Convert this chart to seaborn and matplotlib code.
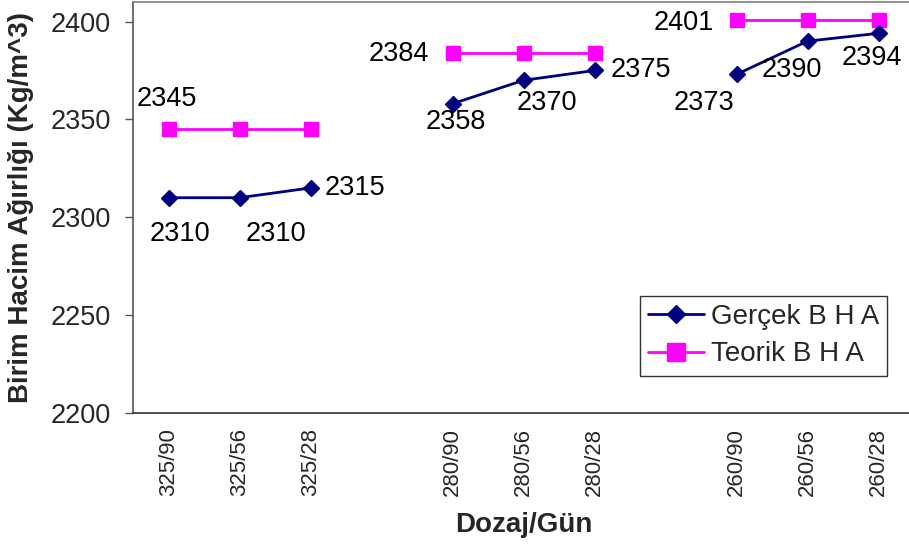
import numpy as np
import pandas as pd
import matplotlib
matplotlib.use("Agg")
import matplotlib.pyplot as plt
import seaborn as sns

# =============================================================================
# DATOS
# =============================================================================
kategoriler = ['325/90', '325/56', '325/28', '',
               '280/90', '280/56', '280/28', '',
               '260/90', '260/56', '260/28']
gruplar = [325, 325, 325, 0, 280, 280, 280, 0, 260, 260, 260]
gercek = [2310, 2310, 2315, np.nan, 2358, 2370, 2375, np.nan, 2373, 2390, 2394]
teorik = [2345, 2345, 2345, np.nan, 2384, 2384, 2384, np.nan, 2401, 2401, 2401]

# etiketlerin konumu (nokta cinsinden kaydirma), None = etiket yok
gercek_ofset = [(8, -26), (26, -26), (32, 0), None,
                (2.5, -13), (17, -16), (33.5, 0), None,
                (-23.5, -20.5), (-11, -21), (-4.5, -18)]
teorik_ofset = [(-1, 21.5), None, None, None,
                (-39, -0.5), None, None, None,
                (-38, -2.5), None, None]

# =============================================================================
# TABLO
# =============================================================================
df = pd.DataFrame({
    'pos': np.arange(len(kategoriler)),
    'grup': gruplar,
    'Gerçek B H A': gercek,
    'Teorik B H A': teorik,
})
df_uzun = df.melt(id_vars=['pos', 'grup'], var_name='seri', value_name='deger').dropna()

# =============================================================================
# GRAFIK
# =============================================================================
sns.set_style('white')
plt.rcParams['font.family'] = ['Liberation Sans', 'DejaVu Sans']

fig = plt.figure(figsize=(9.09, 5.44), dpi=100)
ax = fig.add_axes([133 / 909, 131 / 544, 781 / 909, 411 / 544])

stiller = {
    'Gerçek B H A': dict(color='#000080', marker='D', markersize=8),
    'Teorik B H A': dict(color='#FF00FF', marker='s', markersize=10.5),
}
for seri in ['Teorik B H A', 'Gerçek B H A']:
    st = stiller[seri]
    sns.lineplot(data=df_uzun[df_uzun['seri'] == seri], x='pos', y='deger',
                 units='grup', estimator=None, ax=ax, label=seri,
                 color=st['color'], marker=st['marker'], markersize=st['markersize'],
                 markeredgecolor=st['color'], markeredgewidth=1, linewidth=2)

# veri etiketleri
for degerler, ofsetler in [(gercek, gercek_ofset), (teorik, teorik_ofset)]:
    for i, (v, o) in enumerate(zip(degerler, ofsetler)):
        if o is None or np.isnan(v):
            continue
        ax.annotate(f'{v:.0f}', (i, v), xytext=o, textcoords='offset points',
                    ha='center', va='center', fontsize=19.5, color='black')

ax.set_xlim(-0.5, len(kategoriler) - 0.5)
ax.set_ylim(2200, 2410)
ax.set_yticks([2200, 2250, 2300, 2350, 2400])

ax.set_xticks(np.arange(len(kategoriler)))
ax.set_xticklabels(kategoriler, rotation=90, fontsize=16)
ax.set_xticks(np.arange(-0.5, len(kategoriler)), minor=True)
ax.tick_params(axis='x', which='major', length=0, pad=11)
ax.tick_params(axis='x', which='minor', length=4.5, width=1, color='#333333', direction='out')
ax.tick_params(axis='y', length=6, width=1, color='#555555', direction='out',
               labelsize=19.5, pad=10, left=True)

ax.set_xlabel('Dozaj/Gün', fontsize=20, fontweight='bold', labelpad=11)
ax.set_ylabel('Birim Hacim Ağırlığı (Kg/m^3)', fontsize=20, fontweight='bold', labelpad=12)

ax.spines['right'].set_visible(False)
ax.spines['top'].set_color('#808080')
ax.spines['left'].set_color('#555555')
ax.spines['bottom'].set_color('#333333')
for s in ['top', 'left', 'bottom']:
    ax.spines[s].set_linewidth(1.2)

# lejant (tekrarlanan etiketleri ayikla)
h, l = ax.get_legend_handles_labels()
tekil = dict(zip(l, h))
sira = ['Gerçek B H A', 'Teorik B H A']
leg = ax.legend([tekil[k] for k in sira], sira, loc='upper left',
                bbox_to_anchor=(0.649, 0.285), borderaxespad=0, fontsize=20,
                frameon=True, fancybox=False, shadow=False, handlelength=2.0,
                handletextpad=0.25, borderpad=0.3, labelspacing=0.4,
                markerscale=1.2)
leg.get_frame().set_edgecolor('black')
leg.get_frame().set_linewidth(1)

fig.savefig('out.png', dpi=100)
